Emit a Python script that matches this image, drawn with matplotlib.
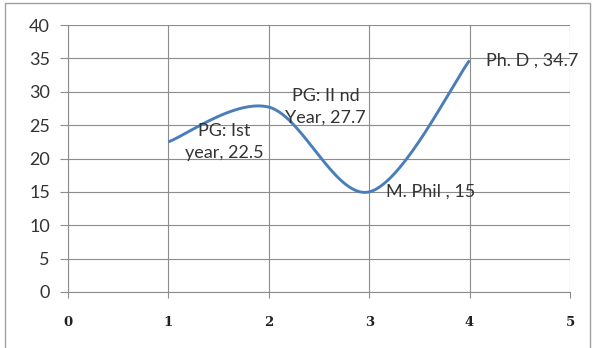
import numpy as np
import matplotlib
matplotlib.use("Agg")
import matplotlib.pyplot as plt
from matplotlib.patches import Rectangle

x_vals = [1, 2, 3, 4]
y_vals = [22.5, 27.7, 15, 34.7]
labels = ["PG: Ist\nyear, 22.5", "PG: II nd\nYear, 27.7", "M. Phil , 15", "Ph. D , 34.7"]
x_ticks = [0, 1, 2, 3, 4, 5]
y_ticks = [0, 5, 10, 15, 20, 25, 30, 35, 40]


def smooth(xs, ys, n=60):
    P = np.column_stack([xs, ys]).astype(float)
    pts = []
    m = len(P)
    for i in range(m - 1):
        p0 = P[max(i - 1, 0)]
        p1 = P[i]
        p2 = P[i + 1]
        p3 = P[min(i + 2, m - 1)]
        c1 = p1 + (p2 - p0) / 6.0
        c2 = p2 - (p3 - p1) / 6.0
        t = np.linspace(0, 1, n)[:, None]
        b = ((1 - t) ** 3) * p1 + 3 * ((1 - t) ** 2) * t * c1 + 3 * (1 - t) * t ** 2 * c2 + t ** 3 * p2
        pts.append(b if i == 0 else b[1:])
    pts = np.vstack(pts)
    return pts[:, 0], pts[:, 1]


fig = plt.figure(figsize=(5.92, 3.48), dpi=100)
fig.patches.append(Rectangle((5 / 592, -0.05), 585 / 592, 1.05 - 3 / 348,
                             transform=fig.transFigure, fill=False,
                             edgecolor="#a0a0a0", linewidth=1.0))
ax = fig.add_axes([68 / 592, 1 - 292 / 348, (570 - 68) / 592, (292 - 25) / 348])

sx, sy = smooth(x_vals, y_vals)
ax.plot(sx, sy, color="#4a7ebb", linewidth=2.1, solid_capstyle="butt", zorder=3)

ax.set_xlim(0, 5)
ax.set_ylim(0, 40)
ax.set_xticks(x_ticks)
ax.set_yticks(y_ticks)
ax.grid(True, color="#8c8c8c", linewidth=0.8)
ax.set_axisbelow(True)
for s in ["top", "right"]:
    ax.spines[s].set_visible(False)
ax.spines["left"].set_color("#8c8c8c")
ax.spines["bottom"].set_color("#8c8c8c")
ax.spines["left"].set_linewidth(0.8)
ax.spines["bottom"].set_linewidth(0.8)
ax.tick_params(axis="y", length=6, width=0.8, color="#8c8c8c", pad=7,
               labelsize=13, labelcolor="#333333")
ax.tick_params(axis="x", length=4, width=0.8, color="#8c8c8c", pad=13,
               labelsize=9.5, labelcolor="#222222")
for lab in ax.get_yticklabels():
    lab.set_fontfamily("Lato")
for lab in ax.get_xticklabels():
    lab.set_fontfamily("DejaVu Serif")
    lab.set_fontweight("bold")

for xv, yv, lab in zip(x_vals, y_vals, labels):
    ax.annotate(lab, (xv, yv), xytext=(12, 0), textcoords="offset points",
                ha="left", va="center", multialignment="center",
                fontsize=13, family="Lato", color="#333333", linespacing=1.45,
                zorder=4)

fig.savefig("out.png", dpi=100)
